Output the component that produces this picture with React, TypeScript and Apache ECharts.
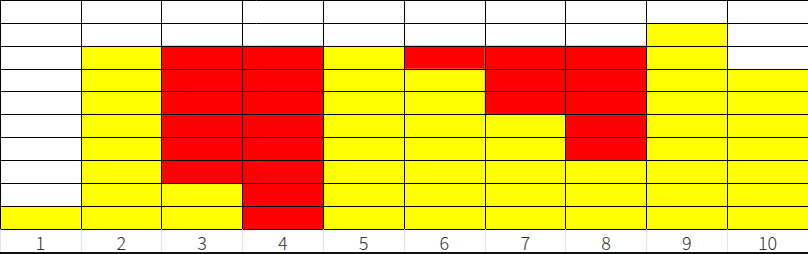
import React, { useEffect, useRef } from "react";
import * as echarts from "echarts";

const categories = ["1", "2", "3", "4", "5", "6", "7", "8", "9", "10"];
const yellowCells = [1, 8, 2, 0, 8, 7, 5, 3, 9, 7];
const redCells = [0, 0, 6, 8, 0, 1, 3, 5, 0, 0];
const rowCount = 10;

export default function App() {
  const ref = useRef<HTMLDivElement>(null);
  useEffect(() => {
    document.body.style.margin = "0";
    const chart = echarts.init(ref.current!, null, { renderer: "svg" });
    chart.setOption({
      animation: false,
      backgroundColor: "#ffffff",
      grid: { left: -1, right: -1, top: -0.7, bottom: 24.7 },
      xAxis: {
        type: "category",
        data: categories,
        z: 10,
        axisLine: { show: true, lineStyle: { color: "#000", width: 1 } },
        axisTick: { show: true, length: 22, lineStyle: { color: "#e3e3e3", width: 1 } },
        axisLabel: {
          margin: 4,
          fontSize: 18,
          fontWeight: 300,
          color: "#2e3535",
          fontFamily: "Noto Sans CJK SC",
        },
        splitLine: { show: true, interval: 0, lineStyle: { color: "#000", width: 1 } },
      },
      yAxis: {
        type: "value",
        min: 0,
        max: rowCount,
        interval: 1,
        z: 10,
        axisLabel: { show: false },
        axisLine: { show: false },
        axisTick: { show: false },
        splitLine: { show: true, lineStyle: { color: "#000", width: 1 } },
      },
      series: [
        {
          type: "bar",
          stack: "cells",
          data: yellowCells,
          barWidth: "100%",
          barCategoryGap: 0,
          itemStyle: { color: "#ffff00" },
        },
        {
          type: "bar",
          stack: "cells",
          data: redCells,
          barWidth: "100%",
          barCategoryGap: 0,
          itemStyle: { color: "#ff0000" },
        },
      ],
      graphic: [
        {
          type: "rect",
          shape: { x: 0, y: 252, width: 808, height: 2 },
          style: { fill: "#111" },
          z: 20,
        },
      ],
    });
    return () => chart.dispose();
  }, []);
  return (
    <div
      ref={ref}
      style={{ position: "fixed", left: 0, top: 0, width: 808, height: 254 }}
    />
  );
}
